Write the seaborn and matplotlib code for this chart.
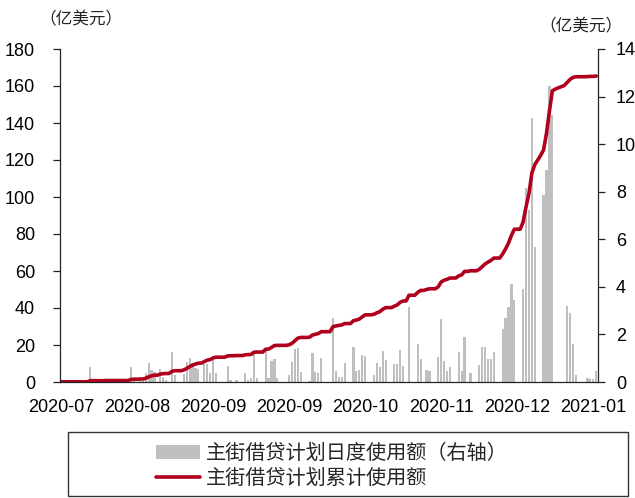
import numpy as np
import pandas as pd
import matplotlib
matplotlib.use("Agg")
import matplotlib.pyplot as plt
import seaborn as sns
from matplotlib.patches import Patch, Rectangle
from matplotlib.lines import Line2D

# Daily usage (right axis, 亿美元) and cumulative usage (left axis, 亿美元)
start_date = "2020-07-13"
daily_usage = [
    0.08, 0, 0, 0, 0, 0, 0, 0, 0, 0,
    0.62, 0, 0, 0, 0.03, 0.03, 0.03, 0, 0, 0,
    0, 0, 0, 0, 0.64, 0.10, 0, 0.05, 0.05, 0.38,
    0.78, 0.52, 0.40, 0, 0.56, 0.20, 0.10, 0, 1.27, 0.30,
    0, 0, 0.34, 0.82, 1.00, 0.80, 0.58, 0.55, 0, 0.76,
    0.76, 0.36, 0.92, 0.36, 0, 0, 0, 0.69, 0.08, 0,
    0.08, 0, 0, 0.39, 0.08, 0.15, 1.18, 0.15, 0, 0,
    1.45, 0.15, 0.88, 0.97, 0.15, 0, 0, 0, 0.29, 0.83,
    1.37, 1.41, 0.43, 0, 0, 0.05, 1.20, 0.43, 0.36, 1.00,
    0, 0, 0, 2.69, 0.48, 0.22, 0.22, 0.79, 0, 0,
    1.49, 0.45, 0.50, 1.15, 1.10, 0, 0, 0.30, 0.81, 0.62,
    1.32, 0.92, 0, 0, 0.76, 0.76, 1.34, 0.67, 0, 3.17,
    0, 0, 1.60, 0.97, 0, 0.50, 0.45, 0, 0, 1.05,
    2.65, 0.89, 0.48, 0.65, 0, 0, 1.28, 0.45, 1.88, 0,
    0.37, 0, 0, 0.71, 1.49, 1.49, 0.95, 0.95, 1.27, 0,
    0, 2.24, 2.67, 3.16, 4.12, 3.44, 0, 0, 3.89, 8.14,
    7.23, 11.12, 5.69, 0, 0, 7.86, 8.90, 12.44, 11.22, 0,
    0, 0, 0, 3.19, 2.91, 1.60, 0.29, 0, 0, 0,
    0.15, 0.13, 0.13, 0.46,
]
cumulative_usage = [
    0.1, 0.1, 0.1, 0.1, 0.1, 0.1, 0.1, 0.1, 0.1, 0.1,
    0.7, 0.7, 0.7, 0.7, 0.7, 0.8, 0.8, 0.8, 0.8, 0.8,
    0.8, 0.8, 0.8, 0.8, 1.4, 1.5, 1.5, 1.6, 1.6, 2.0,
    2.8, 3.3, 3.7, 3.7, 4.3, 4.5, 4.6, 4.6, 5.8, 6.1,
    6.1, 6.1, 6.5, 7.3, 8.3, 9.1, 9.7, 10.2, 10.2, 11.0,
    11.8, 12.1, 13.0, 13.4, 13.4, 13.4, 13.4, 14.1, 14.2, 14.2,
    14.3, 14.3, 14.3, 14.7, 14.8, 14.9, 16.1, 16.2, 16.2, 16.2,
    17.7, 17.8, 18.7, 19.7, 19.8, 19.8, 19.8, 19.8, 20.1, 20.9,
    22.3, 23.7, 24.1, 24.1, 24.1, 24.2, 25.4, 25.8, 26.2, 27.2,
    27.2, 27.2, 27.2, 29.9, 30.3, 30.6, 30.8, 31.6, 31.6, 31.6,
    33.1, 33.5, 34.0, 35.2, 36.3, 36.3, 36.3, 36.6, 37.4, 38.0,
    39.3, 40.2, 40.2, 40.2, 41.0, 41.7, 43.1, 43.8, 43.8, 46.9,
    46.9, 46.9, 48.5, 49.5, 49.5, 50.0, 50.4, 50.4, 50.4, 51.5,
    54.1, 55.0, 55.5, 56.2, 56.2, 56.2, 57.4, 57.9, 59.8, 59.8,
    60.1, 60.1, 60.1, 60.9, 62.3, 63.8, 64.8, 65.7, 67.0, 67.0,
    67.0, 69.2, 71.9, 75.1, 79.2, 82.6, 82.6, 82.6, 86.5, 94.7,
    101.9, 113.0, 117.5, 120.0, 122.5, 125.5, 134.5, 146.5, 157.4, 158.3,
    159.0, 159.6, 160.2, 161.8, 163.5, 164.6, 165.0, 165.0, 165.0, 165.0,
    165.1, 165.2, 165.2, 165.4,
]
tick_step = 26
label_daily = "主街借贷计划日度使用额（右轴）"
label_cum = "主街借贷计划累计使用额"
unit_label = "（亿美元）"

bar_color = "#BFBFBF"
line_color = "#B0001E"

dates = pd.date_range(start_date, periods=len(daily_usage), freq="D")
df = pd.DataFrame({
    "pos": np.arange(len(dates)),
    "daily": daily_usage,
    "cumulative": cumulative_usage,
})

sns.set_theme(style="white")
plt.rcParams["font.family"] = ["Liberation Sans Narrow", "Liberation Sans", "Noto Sans CJK SC"]
cjk = ["Noto Sans CJK SC", "DejaVu Sans"]

W, H = 635, 498
fig = plt.figure(figsize=(W / 100, H / 100), dpi=100)
ax = fig.add_axes([60 / W, 1 - 382 / H, 538 / W, 333 / H])
ax2 = ax.twinx()

sns.barplot(data=df, x="pos", y="daily", native_scale=True, color=bar_color,
            saturation=1, width=0.75, linewidth=0, ax=ax2)
sns.lineplot(data=df, x="pos", y="cumulative", color=line_color,
             linewidth=2.6, ax=ax)

# keep the cumulative line above the bars
ax.set_zorder(ax2.get_zorder() + 1)
ax.patch.set_visible(False)

ax.set_xlim(-0.3, 183.6)
ax.set_ylim(0, 180)
ax.set_yticks(range(0, 181, 20))
ax2.set_ylim(0, 14)
ax2.set_yticks(range(0, 15, 2))

tick_pos = df["pos"].values[::tick_step]
ax.set_xticks(tick_pos)
ax.set_xticklabels(dates[::tick_step].strftime("%Y-%m"))

for a in (ax, ax2):
    a.set_xlabel("")
    a.set_ylabel("")
    a.grid(False)
    for s in a.spines.values():
        s.set_color("#222222")
        s.set_linewidth(0.9)
    a.spines["top"].set_visible(False)

ax.spines["right"].set_visible(False)
ax2.spines["left"].set_visible(False)
ax2.spines["bottom"].set_visible(False)

ax.tick_params(axis="y", left=True, right=False, direction="out", length=5,
               width=0.9, color="#222222", pad=13, labelsize=13, labelcolor="black")
ax.tick_params(axis="x", bottom=True, length=0, pad=12, labelsize=13, labelcolor="black")
ax2.tick_params(axis="y", right=True, left=False, direction="out", length=5,
                width=0.9, color="#222222", pad=8, labelsize=13, labelcolor="black")
ax2.tick_params(axis="x", bottom=False, labelbottom=False)

fig.text(81 / W, 1 - 20 / H, unit_label, ha="center", va="center",
         fontsize=12, family=cjk, color="#222222")
fig.text(581 / W, 1 - 27 / H, unit_label, ha="center", va="center",
         fontsize=12, family=cjk, color="#222222")

handles = [Patch(facecolor=bar_color, edgecolor="none"),
           Line2D([], [], color=line_color, linewidth=2.6)]
fig.legend(handles, [label_daily, label_cum], loc="center",
           bbox_to_anchor=(332 / W, 1 - 466 / H), frameon=False,
           prop={"family": cjk, "size": 14.5}, handlelength=2.2,
           handletextpad=0.3, labelspacing=0.2, borderpad=0)
fig.add_artist(Rectangle((68 / W, 2 / H), 560 / W, 64 / H, transform=fig.transFigure,
                         fill=False, edgecolor="#333333", linewidth=1.0))

fig.savefig("out.png", dpi=100)
